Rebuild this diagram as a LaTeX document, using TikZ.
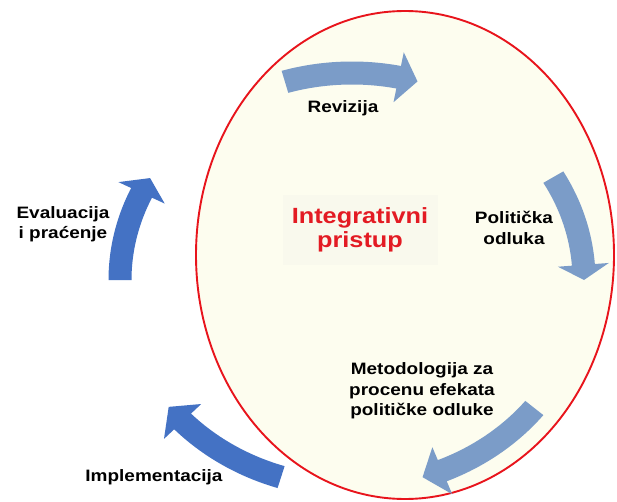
\documentclass[tikz,border=0pt]{standalone}
\usepackage{fontspec}
\setmainfont{Liberation Sans}[FakeStretch=1.15]

\definecolor{ovalfill}{HTML}{FDFDEF}
\definecolor{ovalred}{HTML}{E8141C}
\definecolor{boxfill}{HTML}{F9F9ED}
\definecolor{titlered}{HTML}{E31B23}
\definecolor{arrowlight}{HTML}{7B9CC8}
\definecolor{arrowdark}{HTML}{4472C4}

\tikzset{
  lbl/.style={font=\bfseries\fontsize{16.5}{20.5}\selectfont,align=center,inner sep=0pt},
  titlelbl/.style={font=\bfseries\fontsize{22}{24}\selectfont,align=center,text=titlered,inner sep=0pt},
}

% curved block arrow on the cycle: start angle, head base angle, tip angle, colour
\newcommand{\cyclearrow}[4]{%
  \fill[#4] plot[domain=#1:#2,samples=30] ({352+243.5*cos(\x)},{280+218.5*sin(\x)})
    -- ({352+257.5*cos(#2)},{280+232.5*sin(#2)})
    -- ({352+232*cos(#3)},{280+207*sin(#3)})
    -- ({352+206.5*cos(#2)},{280+181.5*sin(#2)})
    -- plot[domain=#2:#1,samples=30] ({352+220.5*cos(\x)},{280+195.5*sin(\x)})
    -- cycle;}

\begin{document}
\begin{tikzpicture}[x=1pt,y=-1pt]
\useasboundingbox (0,0) rectangle (617,502);
\fill[white] (0,0) rectangle (617,502);

% Oval of the integrative approach
\draw[draw=ovalred,fill=ovalfill,line width=1.9pt] (405,255) ellipse [x radius=209pt,y radius=244pt];

% Cycle arrows
\cyclearrow{-106.8}{-78.4}{-73.6}{arrowlight}
\cyclearrow{-29.8}{-4.2}{0}{arrowlight}
\cyclearrow{38.2}{67.1}{72.3}{arrowlight}
\cyclearrow{107.8}{136.9}{142.2}{arrowdark}
\cyclearrow{180}{204.9}{209.5}{arrowdark}

% Centre title
\node[titlelbl,fill=boxfill,minimum width=155,minimum height=70] (pristup) at (360,230) {Integrativni\\pristup};

% Step labels
\node[lbl] (revizija) at (343,108) {Revizija};
\node[lbl] (odluka) at (514,228) {Politička\\odluka};
\node[lbl] (metodologija) at (422,391) {Metodologija za\\procenu efekata\\političke odluke};
\node[lbl] (implementacija) at (154,477) {Implementacija};
\node[lbl] (evaluacija) at (63,224) {Evaluacija\\i praćenje};

\end{tikzpicture}
\end{document}
